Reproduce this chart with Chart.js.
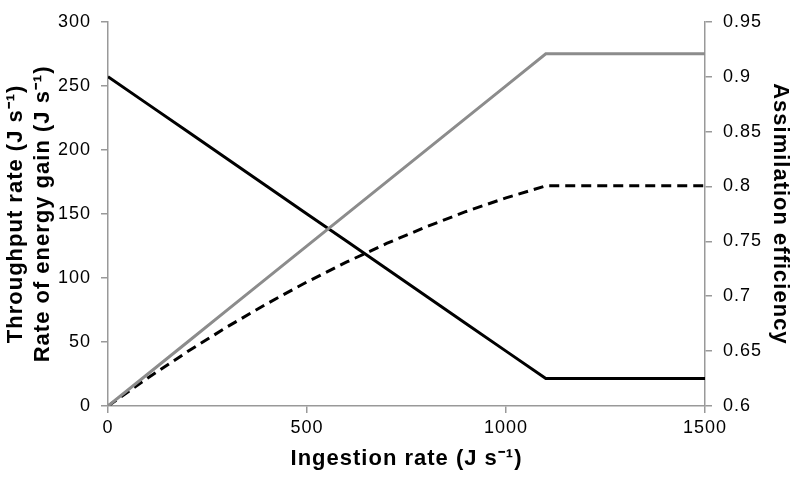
<!DOCTYPE html>
<html>
<head>
<meta charset="utf-8">
<script src="https://cdn.jsdelivr.net/npm/chart.js@4"></script>
<style>
  html, body { margin: 0; padding: 0; background: #fff; }
  #wrap { width: 791px; height: 477px; }
</style>
</head>
<body>
<div id="wrap"><canvas id="chart" width="791" height="477"></canvas></div>
<script>
// values
const ingestion = [0, 100, 200, 300, 400, 500, 600, 700, 800, 900, 1000, 1100, 1500];
const throughput = [0, 25, 50, 75, 100, 125, 150, 175, 200, 225, 250, 275, 275];
const energyGain = [0, 21.9, 42.5, 61.9, 80, 96.9, 112.5, 126.9, 140, 151.9, 162.5, 171.9, 171.9];
const efficiency = [0.9, 0.875, 0.85, 0.825, 0.8, 0.775, 0.75, 0.725, 0.7, 0.675, 0.65, 0.625, 0.625];

const xTitle = 'Ingestion rate (J s\u207B\u00B9)';
const leftTitle = ['Throughput rate (J s\u207B\u00B9)', 'Rate of energy gain (J s\u207B\u00B9)'];
const rightTitle = 'Assimilation efficiency';

const toPoints = (ys) => ingestion.map((x, i) => ({ x: x, y: ys[i] }));

const FONT = "'Liberation Sans', Arial, sans-serif";
const AXIS = '#999999';

// excel-ish spaced text
const spacing = {
  id: 'spacing',
  beforeDraw(chart) { chart.ctx.letterSpacing = '1px'; }
};

// plain numbers, no thousands separator / trailing zeros
const plain = (v) => String(Math.round(v * 1000) / 1000);

new Chart(document.getElementById('chart').getContext('2d'), {
  type: 'line',
  data: {
    datasets: [
      {
        label: 'Throughput rate',
        data: toPoints(throughput),
        yAxisID: 'y',
        borderColor: '#8c8c8c',
        borderWidth: 3
      },
      {
        label: 'Rate of energy gain',
        data: toPoints(energyGain),
        yAxisID: 'y',
        borderColor: '#000',
        borderWidth: 3,
        borderDash: [10, 6]
      },
      {
        label: 'Assimilation efficiency',
        data: toPoints(efficiency),
        yAxisID: 'y1',
        borderColor: '#000',
        borderWidth: 3
      }
    ]
  },
  options: {
    responsive: false,
    animation: false,
    devicePixelRatio: 1,
    layout: { padding: { top: 11 } },
    elements: { point: { radius: 0 }, line: { tension: 0 } },
    plugins: { legend: { display: false }, tooltip: { enabled: false } },
    scales: {
      x: {
        type: 'linear',
        min: 0, max: 1500,
        afterFit(scale) { scale.height = 71; },
        ticks: { stepSize: 500, padding: 4, color: '#000', font: { family: FONT, size: 18 }, callback: plain },
        grid: { drawOnChartArea: false, tickLength: 7, color: AXIS, lineWidth: 1.5 },
        border: { color: AXIS, width: 1.5 },
        title: {
          display: true, text: xTitle, color: '#000',
          font: { family: FONT, size: 22, weight: 'bold' },
          padding: { top: 0, bottom: 5 }
        }
      },
      y: {
        position: 'left',
        min: 0, max: 300,
        afterFit(scale) { scale.width = 108; },
        ticks: { stepSize: 50, padding: 10, color: '#000', font: { family: FONT, size: 18 }, callback: plain },
        grid: { drawOnChartArea: false, tickLength: 7, color: AXIS, lineWidth: 1.5 },
        border: { color: AXIS, width: 1.5 },
        title: {
          display: true, text: leftTitle, color: '#000',
          font: { family: FONT, size: 22, weight: 'bold', lineHeight: 27 / 22 },
          padding: { top: 2, bottom: 0 }
        }
      },
      y1: {
        position: 'right',
        min: 0.6, max: 0.95,
        afterFit(scale) { scale.width = 86; },
        ticks: { stepSize: 0.05, padding: 11, color: '#000', font: { family: FONT, size: 18 }, callback: plain },
        grid: { drawOnChartArea: false, tickLength: 7, color: AXIS, lineWidth: 1.5 },
        border: { color: AXIS, width: 1.5 },
        title: {
          display: true, text: rightTitle, color: '#000',
          font: { family: FONT, size: 22, weight: 'bold', lineHeight: 1 },
          padding: { top: 0, bottom: 0 }
        }
      }
    }
  },
  plugins: [spacing]
});
</script>
</body>
</html>
